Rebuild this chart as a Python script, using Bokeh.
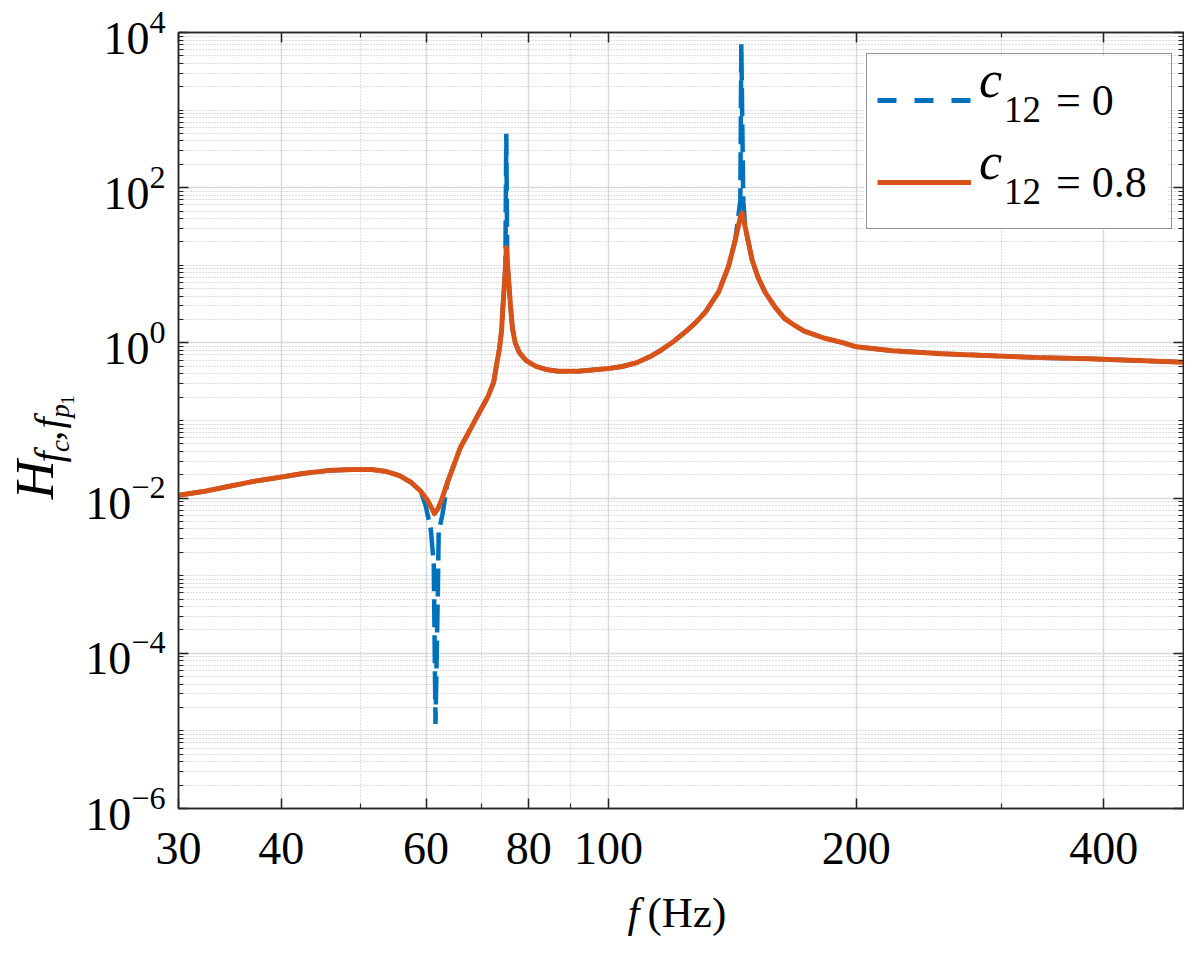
import math
from bokeh.plotting import figure
from bokeh.layouts import column, row
from bokeh.models import (FixedTicker, LogAxis, Legend, LegendItem, Label, Range1d,
                          NumeralTickFormatter, LogTickFormatter, BoxAnnotation)
from bokeh.embed import file_html
from bokeh.resources import INLINE

# ---------------- data ----------------
freq_c08 = [30.0, 32.3, 34.6, 37.0, 39.7, 42.5, 45.5, 48.8, 51.5, 53.7, 55.7, 57.5, 59.1,
            60.3, 61.1, 61.4, 62.0, 62.65, 63.7, 66.0, 67.9, 69.2, 71.3, 72.5, 73.1, 73.7,
            74.1, 74.5, 74.9, 75.1, 75.5, 75.95, 76.4, 77.0, 77.9, 79.4, 81.6, 83.9, 86.9,
            91.8, 97.0, 100.0, 103.9, 108.3, 112.9, 116.0, 120.2, 124.3, 127.7, 131.3,
            136.1, 139.9, 142.6, 144.6, 145.4, 146.6, 149.4, 151.9, 154.9, 159.2, 163.6,
            168.2, 172.9, 182.7, 193.0, 200.0, 221.4, 254.1, 291.6, 334.6, 383.0, 440.5,
            500.0]
H_c08 = [0.0109, 0.01227, 0.01419, 0.01641, 0.01845, 0.0207, 0.0226, 0.0233, 0.0233, 0.0220,
         0.0195, 0.0160, 0.0123, 0.00916, 0.00705, 0.00627, 0.00726, 0.00944, 0.0160, 0.0442,
         0.0769, 0.112, 0.201, 0.312, 0.527, 0.864, 1.42, 3.71, 8.9, 16.9, 7.69, 3.21, 1.55,
         1.0, 0.747, 0.592, 0.497, 0.455, 0.430, 0.430, 0.455, 0.469, 0.497, 0.558, 0.684,
         0.815, 1.06, 1.42, 1.84, 2.54, 4.55, 9.71, 21.3, 41.7, 46.9, 31.2, 11.9, 7.05, 4.55,
         2.94, 2.07, 1.69, 1.42, 1.157, 1.0, 0.890, 0.792, 0.726, 0.685, 0.646, 0.627, 0.592,
         0.565]

freq_c0 = [30.0, 32.3, 34.6, 37.0, 39.7, 42.5, 45.5, 48.8, 51.5, 53.7, 55.7, 57.5, 59.1,
           59.9, 60.8, 61.3, 61.6, 62.0, 62.15, 62.8, 63.7, 66.0, 67.9, 69.2, 71.3, 72.5,
           73.1, 73.7, 74.1, 74.5, 74.9, 75.1, 75.3, 75.5, 75.95, 76.4, 77.0, 77.9, 79.4,
           81.6, 83.9, 86.9, 91.8, 97.0, 100.0, 103.9, 108.3, 112.9, 116.0, 120.2, 124.3,
           127.7, 131.3, 136.1, 139.9, 142.6, 144.6, 145.0, 145.8, 146.6, 149.4, 151.9,
           154.9, 159.2, 163.6, 168.2, 172.9, 182.7, 193.0, 200.0, 221.4, 254.1, 291.6,
           334.6, 383.0, 440.5, 500.0]
H_c0 = [0.0109, 0.01227, 0.01419, 0.01641, 0.01845, 0.0207, 0.0226, 0.0233, 0.0233, 0.0220,
        0.0195, 0.0160, 0.0123, 0.00815, 0.00394, 0.00142, 1.23e-5, 0.000592, 0.00371,
        0.0061, 0.0160, 0.0442, 0.0769, 0.112, 0.201, 0.312, 0.527, 0.864, 1.42, 3.71, 8.9,
        497.0, 12.0, 7.69, 3.21, 1.55, 1.0, 0.747, 0.592, 0.497, 0.455, 0.430, 0.430, 0.455,
        0.469, 0.497, 0.558, 0.684, 0.815, 1.06, 1.42, 1.84, 2.54, 4.55, 9.71, 21.3, 68.5,
        7050.0, 68.5, 31.2, 11.9, 7.05, 4.55, 2.94, 2.07, 1.69, 1.42, 1.157, 1.0, 0.890,
        0.792, 0.726, 0.685, 0.646, 0.627, 0.592, 0.565]

x_ticks = [30, 40, 60, 80, 100, 200, 400]
x_minor_ticks = [50, 70, 90, 300]
y_ticks = [1e-6, 1e-4, 1e-2, 1e0, 1e2, 1e4]
y_minor_ticks = [k * 10.0 ** e for e in range(-6, 4) for k in range(1, 10)
                 if not (k == 1 and e % 2 == 0)]

legend_labels = ["= 0", "= 0.8"]

BLUE = "#0072BD"
ORANGE = "#D95319"
AX = "#262626"
SERIF = "Liberation Serif"

TOTAL_W, TOTAL_H = 1184, 939
YL_W = 82            # width of the y-label strip
MAIN_H = 886         # height of main figure
FR_LEFT, FR_RIGHT = 175, 1183
FR_TOP, FR_BOTTOM = 32, 808
X0, X1 = 30, 500
Y0, Y1 = 1e-6, 1e4

p = figure(width=TOTAL_W - YL_W, height=MAIN_H, x_axis_type="log", y_axis_type="log",
           x_range=Range1d(X0, X1), y_range=Range1d(Y0, Y1),
           output_backend="svg", toolbar_location=None,
           min_border_left=FR_LEFT - YL_W, min_border_right=TOTAL_W - FR_RIGHT,
           min_border_top=FR_TOP, min_border_bottom=MAIN_H - FR_BOTTOM)
p.background_fill_color = "white"
p.border_fill_color = "white"
p.outline_line_color = AX
p.outline_line_width = 1.5

p.xaxis.ticker = FixedTicker(ticks=x_ticks, minor_ticks=x_minor_ticks)
p.xaxis.formatter = NumeralTickFormatter(format="0")
p.yaxis.ticker = FixedTicker(ticks=y_ticks, minor_ticks=y_minor_ticks)
p.yaxis.formatter = LogTickFormatter()


def style_axis(ax):
    ax.axis_line_color = AX
    ax.axis_line_width = 1.5
    ax.major_tick_line_color = AX
    ax.minor_tick_line_color = AX
    ax.major_tick_line_width = 1.5
    ax.minor_tick_line_width = 1.2
    ax.major_tick_in = 10
    ax.major_tick_out = 0
    ax.minor_tick_in = 5
    ax.minor_tick_out = 0


for ax in (p.xaxis[0], p.yaxis[0]):
    style_axis(ax)
    ax.major_label_text_font = SERIF
    ax.major_label_text_font_size = "46px"
    ax.major_label_text_color = "#000000"
    ax.axis_label = None
p.xaxis.major_label_standoff = 24
p.yaxis.major_label_standoff = 13

top = LogAxis(ticker=FixedTicker(ticks=x_ticks, minor_ticks=x_minor_ticks))
right = LogAxis(ticker=FixedTicker(ticks=y_ticks, minor_ticks=y_minor_ticks))
for ax in (top, right):
    style_axis(ax)
    ax.major_label_text_color = None
    ax.major_label_text_font_size = "0px"
    ax.major_label_standoff = 0
p.add_layout(top, "above")
p.add_layout(right, "right")

for g in (p.xgrid[0], p.ygrid[0]):
    g.grid_line_color = "#d9d9d9"
    g.grid_line_width = 1.5
    g.minor_grid_line_color = "#bdbdbd"
    g.minor_grid_line_width = 1.0
    g.minor_grid_line_dash = "1 2"


# pixel position inside the main plot -> data position (for legend/text placement only)
def px_to_data(px, py):
    fx = X0 * (X1 / X0) ** ((px - FR_LEFT) / (FR_RIGHT - FR_LEFT))
    fy = Y1 * (Y0 / Y1) ** ((py - FR_TOP) / (FR_BOTTOM - FR_TOP))
    return fx, fy


# white backing for the legend box (hides grid lines)
LG_L, LG_T, LG_R, LG_B = 863, 55, 1167, 229
bl, bt = px_to_data(LG_L, LG_T)
br, bb = px_to_data(LG_R, LG_B)
p.add_layout(BoxAnnotation(left=bl, right=br, top=bt, bottom=bb, level="underlay",
                           fill_color="white", fill_alpha=1.0, line_color=None))

r_c0 = p.line(freq_c0, H_c0, line_color=BLUE, line_width=4.5, line_dash="28 8")
r_c08 = p.line(freq_c08, H_c08, line_color=ORANGE, line_width=5, line_join="round")

# legend sample renderers (a single point draws nothing on the plot itself)
leg0 = p.line(freq_c0[:1], H_c0[:1], line_color=BLUE, line_width=5, line_dash="19 18")
leg1 = p.line(freq_c08[:1], H_c08[:1], line_color=ORANGE, line_width=5)
legend = Legend(items=[LegendItem(label=legend_labels[0], renderers=[leg0]),
                       LegendItem(label=legend_labels[1], renderers=[leg1])],
                location=(LG_L - FR_LEFT, FR_BOTTOM - LG_B), margin=0, padding=10,
                spacing=10, glyph_width=94, glyph_height=72, label_height=72,
                label_width=105, label_standoff=85, border_line_color=AX,
                border_line_width=1.5, background_fill_alpha=0.0,
                label_text_font=SERIF, label_text_font_size="44px",
                label_text_baseline="alphabetic", label_text_color="#000000")
p.add_layout(legend)

K = 0.405   # baseline offset (em) of a "middle"-anchored label


def legend_piece(text, px, base_y, size, style):
    dx, dy = px_to_data(px, base_y - K * size)
    p.add_layout(Label(x=dx, y=dy, text=text,
                       text_font=SERIF, text_font_style=style, text_font_size=f"{size}px",
                       text_baseline="middle", text_align="left", text_color="#000000"))


for dy in (0, 82):
    legend_piece("c", 978, 100 + dy, 52, "italic")
    legend_piece("12", 1003, 124 + dy, 37, "normal")


def blank_fig(w, h, y0, y1):
    f = figure(width=w, height=h, x_range=Range1d(0, w), y_range=Range1d(y1, y0),
               output_backend="svg", toolbar_location=None,
               x_axis_location=None, y_axis_location=None,
               min_border=0, min_border_left=0, min_border_right=0,
               min_border_top=0, min_border_bottom=0)
    f.outline_line_color = None
    f.grid.visible = False
    f.background_fill_color = "white"
    f.border_fill_color = "white"
    return f


# y-axis label strip: H_{f_c, f_{p1}} rotated (page-pixel coordinates of baselines)
yl = blank_fig(YL_W, MAIN_H, 0, MAIN_H)
rot = math.pi / 2
YSHIFT = 38
ylab = [("H", 56, 495, "italic", 54),
        ("f", 64, 453, "italic", 40),
        ("c", 70, 441, "italic", 27),
        (",", 64, 428, "normal", 40),
        ("f", 64, 414, "italic", 40),
        ("p", 70, 402, "italic", 27),
        ("1", 75, 387, "normal", 19)]
for t, bx, by, st, fs in ylab:
    yl.add_layout(Label(x=bx - K * fs, y=by + YSHIFT, text=t, angle=rot,
                        text_font=SERIF, text_font_style=st, text_font_size=f"{fs}px",
                        text_baseline="middle", text_align="left", text_color="#000000"))

# x-axis label strip: f(Hz)
xl = blank_fig(TOTAL_W, TOTAL_H - MAIN_H, MAIN_H, TOTAL_H)
XL_FS = 43
XL_MID = 912.4
xl.add_layout(Label(x=627, y=XL_MID, text="f", text_font=SERIF,
                    text_font_style="italic", text_font_size=f"{XL_FS}px",
                    text_baseline="middle", text_align="left", text_color="#000000"))
xl.add_layout(Label(x=647, y=XL_MID, text="(Hz)", text_font=SERIF,
                    text_font_size=f"{XL_FS}px",
                    text_baseline="middle", text_align="left", text_color="#000000"))

layout = column(row(yl, p, spacing=0), xl, spacing=0)
open("out.html", "w").write(file_html(layout, INLINE))
